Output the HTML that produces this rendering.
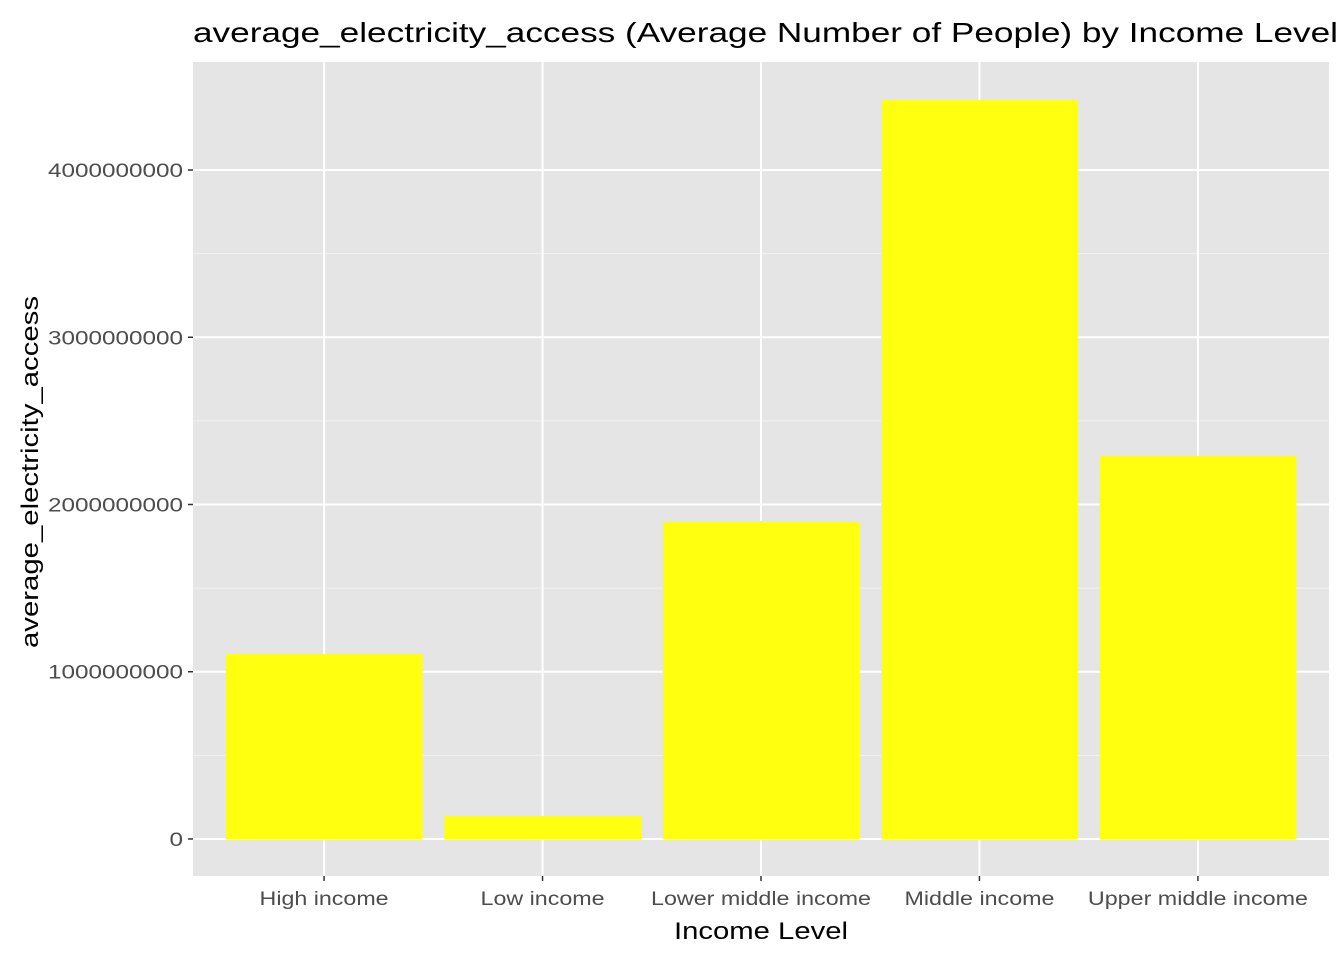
<!DOCTYPE html>
<html><head><meta charset="utf-8"><style>
body{margin:0;background:#fff;font-family:"Liberation Sans",Arial,sans-serif}
</style></head><body>
<svg id="chart" width="1344" height="960" xmlns="http://www.w3.org/2000/svg"></svg>
<script>
const categories=["High income","Low income","Lower middle income","Middle income","Upper middle income"];
const values=[1106000000,137000000,1901000000,4419000000,2290000000];
const yTicks=[0,1000000000,2000000000,3000000000,4000000000];
const yTickLabels=["0","1000000000","2000000000","3000000000","4000000000"];
const svg=document.getElementById('chart');
const NS="http://www.w3.org/2000/svg";
const L=193,R=1329,T=62,B=876;
const yMin=-0.2215e9,yMax=4.646e9;
const y=v=>B-(v-yMin)/(yMax-yMin)*(B-T);
const unit=(R-L)/5.2;
const x=i=>L+(i+1-0.4)*unit;
function mk(tag,attrs,txt){const e=document.createElementNS(NS,tag);for(const k in attrs)e.setAttribute(k,attrs[k]);if(txt!==undefined)e.textContent=txt;svg.appendChild(e);return e;}
let e=mk('rect',{x:L,y:T,width:R-L,height:B-T,fill:'#e5e5e5'});

for(let i=0;i<yTicks.length-1;i++){const m=(yTicks[i]+yTicks[i+1])/2;
 e=mk('line',{x1:L,x2:R,y1:y(m),y2:y(m),stroke:'#f2f2f2','stroke-width':1});
 }
yTicks.forEach((t,i)=>{
 e=mk('line',{x1:L,x2:R,y1:y(t),y2:y(t),stroke:'#fff','stroke-width':2});
 
 e=mk('line',{x1:L-5,x2:L,y1:y(t),y2:y(t),stroke:'#333','stroke-width':1.5});
 
 const lab=yTickLabels[i];
 e=mk('text',{x:L-10,y:y(t)+7,'text-anchor':'end','font-size':19,fill:'#4d4d4d',textLength:lab.length*13.5,lengthAdjust:'spacingAndGlyphs'},lab);
 
});
categories.forEach((c,i)=>{
 e=mk('line',{x1:x(i),x2:x(i),y1:T,y2:B,stroke:'#fff','stroke-width':2});
 
});
const xLabelWidths=[129,124,220,150,220];
categories.forEach((c,i)=>{
 const w=0.9*unit;
 e=mk('rect',{x:x(i)-w/2,y:y(values[i]),width:w,height:y(0)-y(values[i]),fill:'#ffff0f'});
 
 e=mk('line',{x1:x(i),x2:x(i),y1:B,y2:B+5,stroke:'#333','stroke-width':1.5});
 
 e=mk('text',{x:x(i),y:B+29,'text-anchor':'middle','font-size':19,fill:'#4d4d4d',textLength:xLabelWidths[i],lengthAdjust:'spacingAndGlyphs'},c);
 
});
e=mk('text',{x:761,y:939,'text-anchor':'middle','font-size':24,fill:'#000',textLength:174,lengthAdjust:'spacingAndGlyphs'},'Income Level');

e=mk('text',{x:0,y:0,'text-anchor':'middle','font-size':24,fill:'#000',textLength:352,lengthAdjust:'spacingAndGlyphs',transform:`translate(38,472) rotate(-90)`},'average_electricity_access');

e=mk('text',{x:193,y:42,'font-size':28,fill:'#000',textLength:1145,lengthAdjust:'spacingAndGlyphs'},'average_electricity_access (Average Number of People) by Income Level');

</script>
</body></html>
